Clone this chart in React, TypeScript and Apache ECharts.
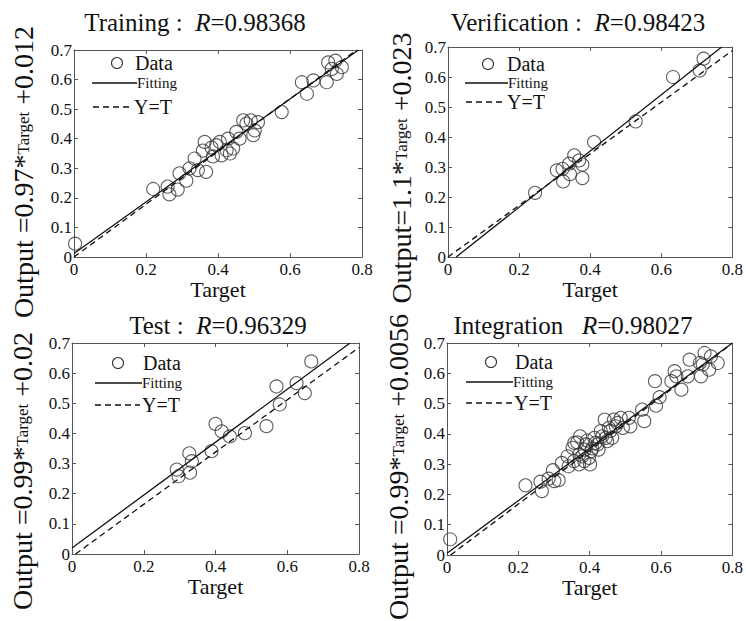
import React, { useEffect, useRef } from 'react';
import * as echarts from 'echarts';

// ---------- data ----------
const trainingData: number[][] = [
  [0.003, 0.045], [0.22, 0.23], [0.26, 0.238], [0.265, 0.212], [0.288, 0.228], [0.293, 0.283],
  [0.312, 0.258], [0.321, 0.3], [0.335, 0.333], [0.344, 0.294], [0.358, 0.36], [0.363, 0.389],
  [0.367, 0.288], [0.382, 0.37], [0.386, 0.34], [0.395, 0.378], [0.405, 0.389], [0.41, 0.344],
  [0.424, 0.361], [0.428, 0.4], [0.433, 0.35], [0.442, 0.367], [0.451, 0.423], [0.46, 0.4],
  [0.47, 0.462], [0.479, 0.451], [0.491, 0.462], [0.498, 0.412], [0.502, 0.428], [0.511, 0.456],
  [0.577, 0.49], [0.633, 0.591], [0.647, 0.552], [0.665, 0.597], [0.702, 0.591], [0.706, 0.658],
  [0.716, 0.636], [0.726, 0.664], [0.73, 0.619], [0.733, 0.712], [0.744, 0.642]
];
const trainingFit: number[][] = [[0, 0.012], [0.79, 0.7]];
const trainingIdentity: number[][] = [[0, 0], [0.785, 0.7]];

const verificationData: number[][] = [
  [0.245, 0.214], [0.306, 0.289], [0.322, 0.294], [0.324, 0.252], [0.341, 0.311], [0.343, 0.276],
  [0.355, 0.339], [0.369, 0.322], [0.378, 0.308], [0.378, 0.263], [0.411, 0.383], [0.528, 0.452],
  [0.633, 0.6], [0.708, 0.622], [0.719, 0.661]
];
const verificationFit: number[][] = [[0.023, 0], [0.77, 0.7]];
const verificationIdentity: number[][] = [[0, 0], [0.8, 0.688]];

const testData: number[][] = [
  [0.292, 0.28], [0.297, 0.258], [0.327, 0.334], [0.329, 0.27], [0.334, 0.308], [0.389, 0.341],
  [0.4, 0.432], [0.417, 0.407], [0.44, 0.39], [0.482, 0.401], [0.542, 0.424], [0.57, 0.556],
  [0.579, 0.496], [0.626, 0.567], [0.649, 0.534], [0.667, 0.639]
];
const testFit: number[][] = [[0, 0.02], [0.775, 0.7]];
const testIdentity: number[][] = [[0.01, 0], [0.8, 0.685]];

const integrationData: number[][] = [
  [0.009, 0.052], [0.22, 0.23], [0.262, 0.242], [0.266, 0.211], [0.285, 0.252], [0.297, 0.28],
  [0.301, 0.244], [0.313, 0.247], [0.322, 0.304], [0.338, 0.326], [0.341, 0.293], [0.352, 0.354],
  [0.356, 0.31], [0.357, 0.37], [0.365, 0.372], [0.37, 0.299], [0.371, 0.332], [0.373, 0.392],
  [0.379, 0.326], [0.385, 0.31], [0.386, 0.348], [0.39, 0.365], [0.393, 0.378], [0.398, 0.321],
  [0.401, 0.299], [0.404, 0.343], [0.407, 0.352], [0.413, 0.387], [0.416, 0.37], [0.422, 0.365],
  [0.425, 0.348], [0.431, 0.409], [0.435, 0.392], [0.442, 0.447], [0.445, 0.387], [0.449, 0.376],
  [0.454, 0.42], [0.458, 0.41], [0.463, 0.387], [0.468, 0.447], [0.473, 0.425], [0.478, 0.436],
  [0.487, 0.453], [0.493, 0.42], [0.51, 0.453], [0.514, 0.425], [0.547, 0.48], [0.553, 0.442],
  [0.583, 0.574], [0.586, 0.493], [0.596, 0.521], [0.629, 0.574], [0.638, 0.607], [0.643, 0.59],
  [0.657, 0.546], [0.675, 0.59], [0.68, 0.645], [0.709, 0.634], [0.712, 0.59], [0.717, 0.629],
  [0.722, 0.667], [0.735, 0.612], [0.74, 0.656], [0.759, 0.634]
];
const integrationFit: number[][] = [[0, 0.006], [0.8, 0.7]];
const integrationIdentity: number[][] = [[0.01, 0], [0.79, 0.69]];

const titleNames = ['Training :  ', 'Verification :  ', 'Test :  ', 'Integration   '];
const rValues = ['0.98368', '0.98423', '0.96329', '0.98027'];
const yLabelHeads = ['Output =0.97*', 'Output=1.1*', 'Output =0.99*', 'Output =0.99*'];
const yLabelTails = [' +0.012', ' +0.023', ' +0.02', ' +0.0056'];
const xAxisName = 'Target';
const legendNames = ['Data', 'Fitting', 'Y=T'];

// ---------- layout ----------
const FONT = '"Liberation Serif", "Times New Roman", serif';
const INK = '#111';
const BOX = '#555';

const panels = [
  {
    data: trainingData, fit: trainingFit, ident: trainingIdentity,
    grid: { left: 74, top: 50, width: 288, height: 207 },
    titlePos: [195, 22], ylPos: [23, 172],
    lg: { cx: 117, cy: 63, dx: 135, fy: 83, fx1: 92, fx2: 137, iy: 107, ix1: 93, ix2: 132, itx: 134 }
  },
  {
    data: verificationData, fit: verificationFit, ident: verificationIdentity,
    grid: { left: 448, top: 47, width: 286, height: 210 },
    titlePos: [578, 22], ylPos: [401, 168],
    lg: { cx: 488, cy: 64, dx: 507, fy: 83, fx1: 465, fx2: 508, iy: 102, ix1: 466, ix2: 505, itx: 507 }
  },
  {
    data: testData, fit: testFit, ident: testIdentity,
    grid: { left: 72, top: 343, width: 287, height: 211 },
    titlePos: [218, 325], ylPos: [22, 471],
    lg: { cx: 118, cy: 363, dx: 143, fy: 383, fx1: 95, fx2: 142, iy: 405, ix1: 95, ix2: 140, itx: 142 }
  },
  {
    data: integrationData, fit: integrationFit, ident: integrationIdentity,
    grid: { left: 447, top: 343, width: 288, height: 212 },
    titlePos: [573, 325], ylPos: [398, 467],
    lg: { cx: 491, cy: 362, dx: 515, fy: 382, fx1: 466, fx2: 513, iy: 403, ix1: 466, ix2: 512, itx: 514 }
  }
];

const fmt = (v: number) => (v === 0 ? '0' : String(Math.round(v * 10) / 10));

function buildOption() {
  const grid: any[] = [];
  const xAxis: any[] = [];
  const yAxis: any[] = [];
  const series: any[] = [];
  const graphic: any[] = [];

  const lineStyle = { color: BOX, width: 1 };
  const tick = { show: true, inside: true, length: 4, lineStyle: { color: BOX, width: 1 } };

  panels.forEach((p, i) => {
    grid.push({ ...p.grid, show: false });
    xAxis.push({
      type: 'value', gridIndex: i, min: 0, max: 0.8, interval: 0.2, position: 'bottom',
      axisLine: { show: true, onZero: false, lineStyle },
      axisTick: tick,
      splitLine: { show: false },
      axisLabel: { fontFamily: FONT, fontSize: 17, color: INK, margin: 4, formatter: fmt },
      name: xAxisName, nameLocation: 'middle', nameGap: 14,
      nameTextStyle: { fontFamily: FONT, fontSize: 22, color: INK }
    });
    xAxis.push({
      type: 'value', gridIndex: i, min: 0, max: 0.8, interval: 0.2, position: 'top',
      axisLine: { show: true, onZero: false, lineStyle },
      axisTick: tick, splitLine: { show: false }, axisLabel: { show: false }
    });
    yAxis.push({
      type: 'value', gridIndex: i, min: 0, max: 0.7, interval: 0.1, position: 'left',
      axisLine: { show: true, onZero: false, lineStyle },
      axisTick: tick, splitLine: { show: false },
      axisLabel: { fontFamily: FONT, fontSize: 17, color: INK, margin: 2, formatter: fmt }
    });
    yAxis.push({
      type: 'value', gridIndex: i, min: 0, max: 0.7, interval: 0.1, position: 'right',
      axisLine: { show: true, onZero: false, lineStyle },
      axisTick: tick, splitLine: { show: false }, axisLabel: { show: false }
    });

    series.push({
      type: 'scatter', xAxisIndex: 2 * i, yAxisIndex: 2 * i, data: p.data,
      symbol: 'circle', symbolSize: 13,
      itemStyle: { color: 'rgba(0,0,0,0)', borderColor: '#333', borderWidth: 1.1 },
      silent: true, z: 3
    });
    series.push({
      type: 'line', xAxisIndex: 2 * i, yAxisIndex: 2 * i, data: p.fit,
      showSymbol: false, symbol: 'none', silent: true,
      lineStyle: { color: INK, width: 1.3, type: 'solid' }, z: 4
    });
    series.push({
      type: 'line', xAxisIndex: 2 * i, yAxisIndex: 2 * i, data: p.ident,
      showSymbol: false, symbol: 'none', silent: true,
      lineStyle: { color: INK, width: 1.3, type: [6, 4] }, z: 4
    });

    // title
    graphic.push({
      type: 'text', x: p.titlePos[0], y: p.titlePos[1], silent: true,
      style: {
        text: `{n|${titleNames[i]}}{i|R}{n|=${rValues[i]}}`,
        align: 'center', verticalAlign: 'middle', textAlign: 'center', textVerticalAlign: 'middle',
        rich: {
          n: { fontFamily: FONT, fontSize: 25, fill: INK, color: INK },
          i: { fontFamily: FONT, fontSize: 25, fontStyle: 'italic', fill: INK, color: INK }
        }
      }
    });
    // y label
    graphic.push({
      type: 'text', x: p.ylPos[0], y: p.ylPos[1], rotation: Math.PI / 2, silent: true,
      style: {
        text: `{a|${yLabelHeads[i]}}{b|${xAxisName}}{a|${yLabelTails[i]}}`,
        align: 'center', verticalAlign: 'middle', textAlign: 'center', textVerticalAlign: 'middle',
        rich: {
          a: { fontFamily: FONT, fontSize: 28, fill: INK, color: INK },
          b: { fontFamily: FONT, fontSize: 17, fill: INK, color: INK }
        }
      }
    });
    // legend
    const L = p.lg;
    graphic.push({
      type: 'circle', silent: true, shape: { cx: L.cx, cy: L.cy, r: 5.5 },
      style: { fill: 'none', stroke: '#333', lineWidth: 1.1 }
    });
    graphic.push({
      type: 'text', x: L.dx, y: L.cy, silent: true,
      style: { text: legendNames[0], fontFamily: FONT, fontSize: 20, fill: INK, align: 'left', verticalAlign: 'middle', textVerticalAlign: 'middle' }
    });
    graphic.push({
      type: 'line', silent: true, shape: { x1: L.fx1, y1: L.fy, x2: L.fx2, y2: L.fy },
      style: { stroke: INK, lineWidth: 1.3 }
    });
    graphic.push({
      type: 'text', x: L.fx2, y: L.fy, silent: true,
      style: { text: legendNames[1], fontFamily: FONT, fontSize: 15, fill: INK, align: 'left', verticalAlign: 'middle', textVerticalAlign: 'middle' }
    });
    graphic.push({
      type: 'line', silent: true, shape: { x1: L.ix1, y1: L.iy, x2: L.ix2, y2: L.iy },
      style: { stroke: INK, lineWidth: 1.3, lineDash: [6, 4] }
    });
    graphic.push({
      type: 'text', x: L.itx, y: L.iy, silent: true,
      style: { text: legendNames[2], fontFamily: FONT, fontSize: 20, fill: INK, align: 'left', verticalAlign: 'middle', textVerticalAlign: 'middle' }
    });
  });

  return {
    animation: false,
    backgroundColor: '#ffffff',
    grid, xAxis, yAxis, series, graphic
  };
}

export default function App() {
  const ref = useRef<HTMLDivElement>(null);
  useEffect(() => {
    if (!ref.current) return;
    const chart = echarts.init(ref.current, null, { renderer: 'svg' });
    chart.setOption(buildOption() as any);
    return () => chart.dispose();
  }, []);
  return (
    <div
      ref={ref}
      style={{ position: 'absolute', left: 0, top: 0, width: 746, height: 621, background: '#fff' }}
    />
  );
}
